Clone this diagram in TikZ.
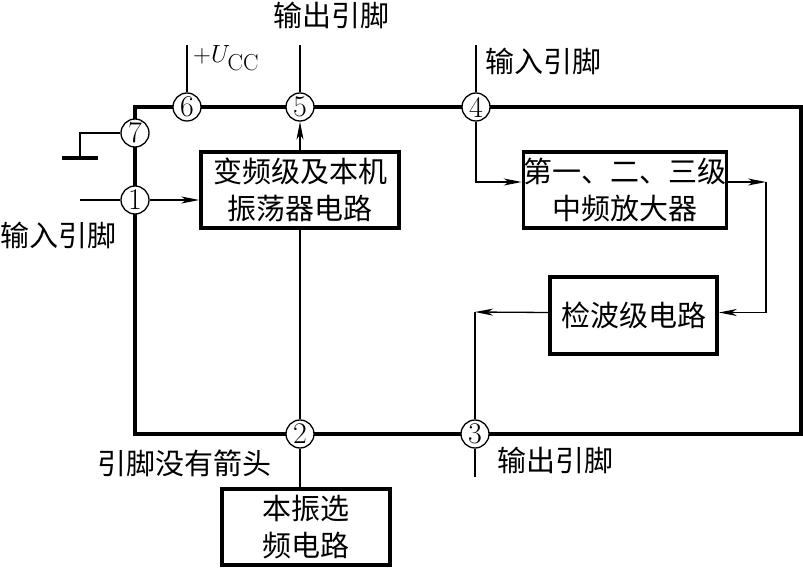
\documentclass[tikz,border=0pt]{standalone}
\usepackage{fontspec}
\usepackage{tikz}
\usetikzlibrary{arrows.meta}
\newfontfamily\cjk{Noto Sans CJK SC}

\begin{document}
\begin{tikzpicture}[x=1pt, y=-1pt,
        wire/.style = {line width=1.3pt},
        sig/.style = {wire, -{Stealth[length=18pt, width=7pt, inset=5pt]}},
        pin/.style = {draw, circle, fill=white, line width=1.3pt, minimum size=28pt, inner sep=0pt, font=\fontsize{30}{30}\selectfont},
        block/.style = {draw, line width=3.5pt, align=center, inner sep=0pt, font=\cjk\fontsize{29}{37}\selectfont},
        lbl/.style = {font=\cjk\fontsize{29}{32}\selectfont, inner sep=0pt}]
        \useasboundingbox (0,0) rectangle (803,569);

        \draw[line width=3.5pt] (135,107) rectangle (801,434);

        \node[pin] (6) at (187,107) {6};
        \node[pin] (5) at (300,107) {5};
        \node[pin] (4) at (476,107) {4};
        \node[pin] (7) at (135,133) {7};
        \node[pin] (1) at (135,200) {1};
        \node[pin] (2) at (300,434) {2};
        \node[pin] (3) at (475,434) {3};

        \node[block, minimum width=198pt, minimum height=76pt] (mix) at (300,190) {变频级及本机\\振荡器电路};
        \node[block, minimum width=192pt, minimum height=76pt] (ifamp) at (625,190) {第一、二、三级\\中频放大器};
        \node[block, minimum width=167pt, minimum height=77pt] (det) at (633.5,315.5) {检波级电路};
        \node[block, minimum width=168pt, minimum height=76pt] (osc) at (306,527) {本振选\\频电路};

        \coordinate (top6) at (187,45);
        \coordinate (top5) at (300,45);
        \coordinate (top4) at (476,45);
        \coordinate (in1) at (80,200);
        \coordinate (gnd) at (80,158);
        \coordinate (ifout) at (766,182);
        \coordinate (detout) at (475,312);
        \coordinate (bot3) at (475,477);

        \node[lbl] (lbl5) at (331,15) {输出引脚};
        \node[lbl] (lbl4) at (543,61) {输入引脚};
        \node[lbl] (lbl1) at (58,235) {输入引脚};
        \node[lbl] (lbl2) at (184,463) {引脚没有箭头};
        \node[lbl] (lbl3) at (555,460) {输出引脚};
        \node[anchor=west, inner sep=0pt, font=\fontsize{33}{34}\selectfont] (ucc) at (193,58) {$+U_{\mathrm{CC}}$};

        \draw[wire] (6) -- (top6);
        \draw[wire] (5) -- (top5);
        \draw[wire] (4) -- (top4);
        \draw[wire] (7) -| (gnd);
        \draw[line width=3.5pt] ([xshift=-18pt]gnd) -- ([xshift=18pt]gnd);
        \draw[wire] (in1) -- (1);
        \draw[sig] (1) -- ([yshift=-10pt]mix.west);
        \draw[sig] (mix.north) -- (5);
        \draw[sig] (4) |- ([yshift=8pt]ifamp.west);
        \draw[sig] ([yshift=8pt]ifamp.east) -- (ifout);
        \draw[sig] (ifout) |- ([yshift=3pt]det.east);
        \draw[sig] ([yshift=3pt]det.west) -- (detout);
        \draw[wire] (detout) -- (3);
        \draw[wire] (3) -- (bot3);
        \draw[wire] (mix.south) -- (2);
        \draw[wire] (2) -- (2 |- osc.north);

    \end{tikzpicture}
\end{document}
